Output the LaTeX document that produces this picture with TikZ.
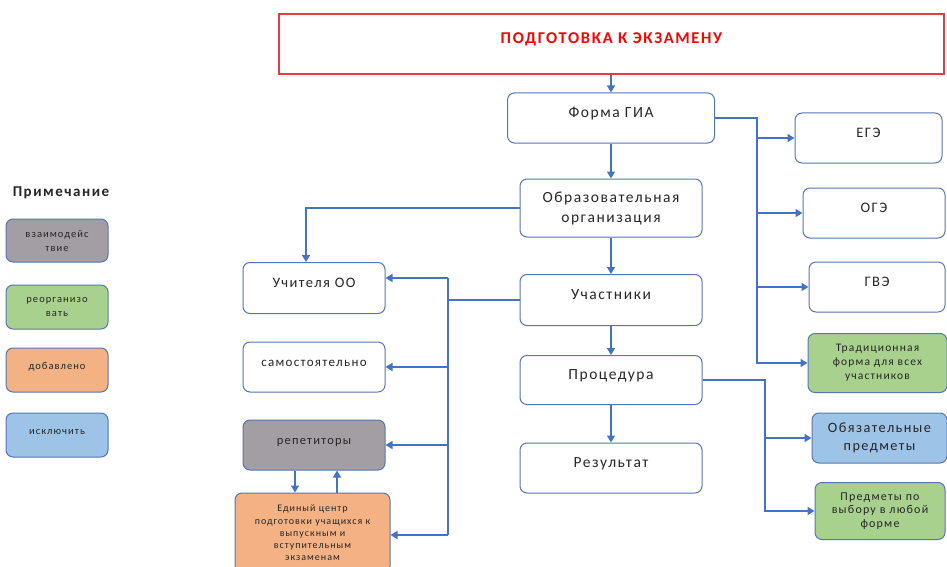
\documentclass[tikz,border=0pt]{standalone}
\usepackage{fontspec}
\setmainfont{Carlito}[LetterSpace=10]
\usepackage{tikz}
\usetikzlibrary{arrows.meta,positioning}

\definecolor{ramka}{RGB}{84,118,184}
\definecolor{liniya}{RGB}{68,114,196}
\definecolor{seryi}{RGB}{163,158,163}
\definecolor{zelenyi}{RGB}{169,209,142}
\definecolor{oranzh}{RGB}{244,177,131}
\definecolor{goluboi}{RGB}{157,195,230}
\definecolor{krasnyi}{RGB}{226,60,66}
\definecolor{tekst}{RGB}{38,38,38}

\begin{document}
\begin{tikzpicture}[x=1pt, y=-1pt,
  blok/.style={draw=ramka, line width=1pt, rounded corners=7pt, fill=white, text=tekst,
               align=center, inner sep=2pt, font=\fontsize{15.5}{20}\selectfont},
  odna/.style={text height=9pt, text depth=10pt},
  melk/.style={font=\fontsize{11.5}{14}\selectfont},
  legenda/.style={blok, font=\fontsize{10.5}{14}\selectfont, minimum width=102pt, minimum height=44pt},
  strelka/.style={-{Triangle[length=7pt,width=8pt]}, line width=1.5pt, draw=liniya},
  svyaz/.style={line width=1.5pt, draw=liniya},
]
  \useasboundingbox (0,0) rectangle (947,567);

  % zagolovok
  \node[draw=krasnyi, line width=1.4pt, minimum width=665pt, minimum height=60pt,
        text=red, font=\bfseries\fontsize{16.5}{18}\selectfont, odna]
    (zagolovok) at (611.5,44) {ПОДГОТОВКА К ЭКЗАМЕНУ};

  % centralnyi stolbets
  \node[blok, odna, minimum width=207pt, minimum height=50pt] (forma) at (611,118) {Форма ГИА};
  \node[blok, minimum width=182pt, minimum height=58pt] (obr) at (611,208) {Образовательная\\организация};
  \node[blok, odna, minimum width=182pt, minimum height=51pt] (uch) at (611,300) {Участники};
  \node[blok, odna, minimum width=182pt, minimum height=49pt] (proc) at (611,380) {Процедура};
  \node[blok, odna, minimum width=182pt, minimum height=50pt] (rez) at (611,468) {Результат};

  % pravyi stolbets
  \node[blok, odna, font=\fontsize{14.5}{18}\selectfont, minimum width=147pt, minimum height=50pt] (ege) at (868.5,138) {ЕГЭ};
  \node[blok, odna, font=\fontsize{14.5}{18}\selectfont, minimum width=142pt, minimum height=50pt] (oge) at (874,213) {ОГЭ};
  \node[blok, odna, font=\fontsize{14.5}{18}\selectfont, minimum width=136pt, minimum height=50pt] (gve) at (877,287) {ГВЭ};
  \node[blok, melk, fill=zelenyi, minimum width=139pt, minimum height=59pt]
    (trad) at (877.5,363) {Традиционная\\форма для всех\\участников};
  \node[blok, font=\fontsize{14.3}{18}\selectfont, fill=goluboi, minimum width=135pt, minimum height=50pt]
    (obyaz) at (879.5,438) {Обязательные\\предметы};
  \node[blok, font=\fontsize{12}{13.5}\selectfont, fill=zelenyi, minimum width=130pt, minimum height=57pt]
    (vybor) at (880,511) {Предметы по\\выбору в любой\\форме};

  % levyi stolbets
  \node[blok, odna, font=\fontsize{14.5}{18}\selectfont, minimum width=142pt, minimum height=51pt] (uchitelya) at (314,288) {Учителя ОО};
  \node[blok, odna, font=\fontsize{13}{16}\selectfont, minimum width=142pt, minimum height=50pt] (samo) at (314,367) {самостоятельно};
  \node[blok, odna, font=\fontsize{12.5}{16}\selectfont, fill=seryi, minimum width=142pt, minimum height=50pt] (repet) at (314,445) {репетиторы};
  \node[blok, font=\fontsize{10}{12.3}\selectfont, fill=oranzh, minimum width=155pt, minimum height=80pt]
    (tsentr) at (312.5,533) {Единый центр\\подготовки учащихся к\\выпускным и\\вступительным\\экзаменам};

  % primechanie
  \node[font=\bfseries\fontsize{15}{18}\selectfont, text=tekst] (primech) at (61,193) {Примечание};
  \node[legenda, fill=seryi, minimum height=43pt] (vzaim) at (57,240.5) {взаимодейс\\твие};
  \node[legenda, fill=zelenyi] (reorg) at (57,307) {реорганизо\\вать};
  \node[legenda, odna, fill=oranzh] (dobav) at (57,370) {добавлено};
  \node[legenda, odna, fill=goluboi] (isklyuch) at (57,435) {исключить};

  % strelki po tsentru
  \draw[strelka] (zagolovok.south -| forma.north) -- (forma.north);
  \draw[strelka] (forma) -- (obr);
  \draw[strelka] (obr) -- (uch);
  \draw[strelka] (uch) -- (proc);
  \draw[strelka] (proc) -- (rez);

  % forma GIA -> vidy
  \coordinate (shinaF) at (757,0);
  \draw[strelka] (forma.east) -| (shinaF |- trad.west) -- (trad.west);
  \draw[strelka] (shinaF |- ege.west) -- (ege.west);
  \draw[strelka] (shinaF |- oge.west) -- (oge.west);
  \draw[strelka] (shinaF |- gve.west) -- (gve.west);

  % protsedura -> predmety
  \coordinate (shinaP) at (765,0);
  \draw[strelka] (proc.east) -| (shinaP |- vybor.west) -- (vybor.west);
  \draw[strelka] (shinaP |- obyaz.west) -- (obyaz.west);

  % OO -> uchitelya
  \draw[strelka] (obr.west) -| ([xshift=-8pt]uchitelya.north);

  % uchastniki -> sposoby podgotovki
  \coordinate (shinaL) at (448,0);
  \coordinate (kU) at ([yshift=10pt]uchitelya.east);
  \coordinate (kC) at ([yshift=-2pt]tsentr.east);
  \draw[svyaz] (uch.west) -- (shinaL |- uch.west);
  \draw[svyaz] (kU -| shinaL) -- (kC -| shinaL);
  \draw[strelka] (kU -| shinaL) -- (kU);
  \draw[strelka] (shinaL |- samo.east) -- (samo.east);
  \draw[strelka] (shinaL |- repet.east) -- (repet.east);
  \draw[strelka] (kC -| shinaL) -- (kC);

  % repetitory <-> tsentr
  \coordinate (rVniz) at ([xshift=-19pt]repet.south);
  \coordinate (rVverh) at ([xshift=23pt]repet.south);
  \draw[strelka] (rVniz) -- (rVniz |- tsentr.north);
  \draw[strelka] (rVverh |- tsentr.north) -- (rVverh);
\end{tikzpicture}
\end{document}
